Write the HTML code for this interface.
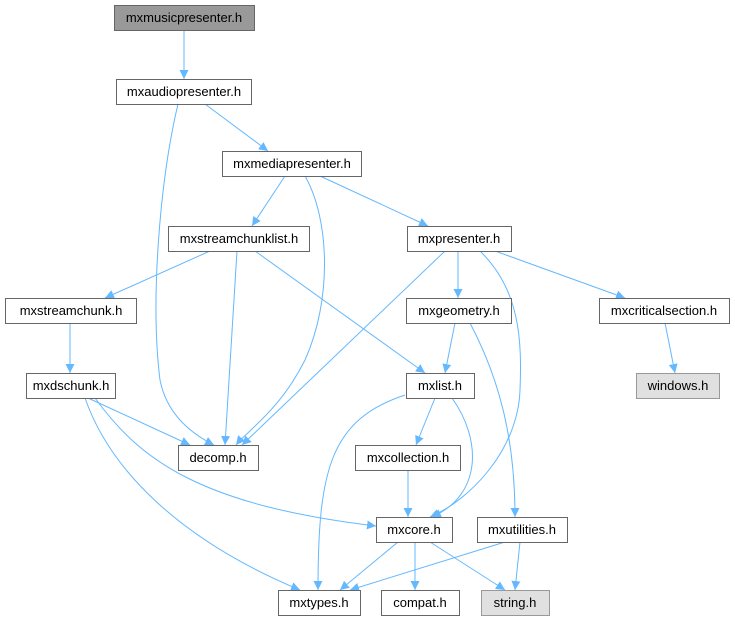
<!DOCTYPE html>
<html><head><style>
body{margin:0;background:#fff;}
svg{display:block;}
text{font-family:"Liberation Sans",Helvetica,sans-serif;font-size:13px;fill:#000;}
.n{fill:#fff;stroke:#666;stroke-width:1;}
.e{fill:none;stroke:#63b8ff;stroke-width:1;}
</style></head><body>
<svg width="735" height="623" viewBox="0 0 735 623" xmlns="http://www.w3.org/2000/svg">
<defs><marker id="a" viewBox="0 0 10 10" refX="10" refY="5" markerWidth="9" markerHeight="9" orient="auto" markerUnits="userSpaceOnUse"><path d="M0,0 L10,5 L0,10 z" fill="#63b8ff"/></marker></defs>
<g marker-end="url(#a)">
<path class="e" d="M184,30 L184,79"/>
<path class="e" d="M178,104 C160,180 150,300 160,380 C168,420 200,438 214,445"/>
<path class="e" d="M205,104 L268,151"/>
<path class="e" d="M285,176 L252,226"/>
<path class="e" d="M305,176 C330,220 332,300 305,360 C280,410 248,430 236,445"/>
<path class="e" d="M320,176 L428,226"/>
<path class="e" d="M210,251 L105,298"/>
<path class="e" d="M237,251 L225,445"/>
<path class="e" d="M255,251 L425,373"/>
<path class="e" d="M445,251 L242,445"/>
<path class="e" d="M458,251 L458,298"/>
<path class="e" d="M480,251 C520,290 522,340 520,390 C518,450 470,500 430,517"/>
<path class="e" d="M495,251 L625,298"/>
<path class="e" d="M70,323 L70,373"/>
<path class="e" d="M88,398 L190,445"/>
<path class="e" d="M95,398 C140,460 200,505 376,526"/>
<path class="e" d="M85,398 C110,470 180,540 300,590"/>
<path class="e" d="M455,323 L445,373"/>
<path class="e" d="M470,323 C500,380 515,440 515,517"/>
<path class="e" d="M665,323 L675,373"/>
<path class="e" d="M405,395 C330,420 318,470 318,590"/>
<path class="e" d="M435,398 L416,445"/>
<path class="e" d="M452,398 C482,440 482,495 432,517"/>
<path class="e" d="M408,470 L408,517"/>
<path class="e" d="M398,542 L340,590"/>
<path class="e" d="M415,542 L415,590"/>
<path class="e" d="M430,542 L505,590"/>
<path class="e" d="M505,542 L350,590"/>
<path class="e" d="M520,542 L515,590"/>
</g>
<g text-anchor="middle">
<rect x="114.5" y="5.5" width="140" height="25" fill="#999" stroke="#666"/><text x="184" y="22">mxmusicpresenter.h</text>
<rect class="n" x="116.5" y="79.5" width="135" height="25"/><text x="184" y="96">mxaudiopresenter.h</text>
<rect class="n" x="222.5" y="151.5" width="139" height="25"/><text x="292" y="168">mxmediapresenter.h</text>
<rect class="n" x="168.5" y="226.5" width="141" height="25"/><text x="239" y="243">mxstreamchunklist.h</text>
<rect class="n" x="407.5" y="226.5" width="104" height="25"/><text x="459" y="243">mxpresenter.h</text>
<rect class="n" x="5.5" y="298.5" width="131" height="25"/><text x="71" y="315">mxstreamchunk.h</text>
<rect class="n" x="406.5" y="298.5" width="105" height="25"/><text x="459" y="315">mxgeometry.h</text>
<rect class="n" x="599.5" y="298.5" width="130" height="25"/><text x="664" y="315">mxcriticalsection.h</text>
<rect class="n" x="26.5" y="373.5" width="89" height="25"/><text x="71" y="390">mxdschunk.h</text>
<rect class="n" x="406.5" y="373.5" width="68" height="25"/><text x="440" y="390">mxlist.h</text>
<rect x="636.5" y="373.5" width="83" height="25" fill="#e0e0e0" stroke="#999"/><text x="678" y="390">windows.h</text>
<rect class="n" x="178.5" y="445.5" width="80" height="25"/><text x="218" y="462">decomp.h</text>
<rect class="n" x="355.5" y="445.5" width="105" height="25"/><text x="408" y="462">mxcollection.h</text>
<rect class="n" x="376.5" y="517.5" width="76" height="25"/><text x="414" y="534">mxcore.h</text>
<rect class="n" x="477.5" y="517.5" width="90" height="25"/><text x="522" y="534">mxutilities.h</text>
<rect class="n" x="278.5" y="590.5" width="82" height="25"/><text x="319" y="607">mxtypes.h</text>
<rect class="n" x="381.5" y="590.5" width="78" height="25"/><text x="420" y="607">compat.h</text>
<rect x="481.5" y="590.5" width="68" height="25" fill="#e0e0e0" stroke="#999"/><text x="515" y="607">string.h</text>
</g>
</svg>
</body></html>
